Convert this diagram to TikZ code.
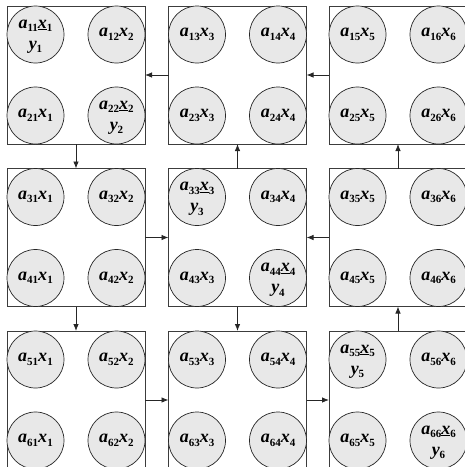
\documentclass[tikz,border=0pt]{standalone}
\usepackage{fontspec}
\setmainfont{Liberation Serif}
\usetikzlibrary{arrows.meta}
\definecolor{circfill}{RGB}{232,232,232}
\definecolor{linegray}{RGB}{60,60,60}
\newcommand{\mainf}{\fontsize{18}{20}\selectfont\bfseries\itshape}
\newcommand{\subf}{\fontsize{11}{12}\selectfont\bfseries\upshape}
\newcommand{\offl}[2]{{\mainf a}\raisebox{-3.5pt}{\subf #1#2}{\mainf x}\raisebox{-3.5pt}{\subf #2}}
\newcommand{\diagl}[1]{{\mainf\begin{tabular}{@{}c@{}}{\mainf a}\raisebox{-3.5pt}{\subf #1#1}\underline{{\mainf x}}\raisebox{-3.5pt}{\subf #1}\\[1pt]{\mainf y}\raisebox{-3.5pt}{\subf #1}\end{tabular}}}
\tikzset{
  boxnode/.style={draw=linegray, line width=0.8pt, minimum size=138pt, inner sep=0pt, outer sep=0pt},
  circnode/.style={circle, draw=black!85, fill=circfill, line width=0.7pt, minimum size=57pt, inner sep=0pt},
  arr/.style={draw=black!85, line width=0.8pt, -{Latex[length=7pt,width=5.5pt]}}
}
\begin{document}
\begin{tikzpicture}[x=1pt,y=-1pt]
\useasboundingbox (0,0) rectangle (465,467);
\clip (0,0) rectangle (465,467);
% boxes
\foreach \R/\yy in {1/75,2/237.5,3/400}{
  \foreach \C/\xx in {1/76,2/237.5,3/398}{
    \node[boxnode] (b\R\C) at (\xx,\yy) {};
  }
}
% circles
\foreach \i/\cy in {1/34.5,2/115.5,3/197,4/278,5/359.5,6/440.5}{
  \foreach \j/\cx in {1/35.5,2/116.5,3/197,4/278,5/357.5,6/438.5}{
    \ifnum\i=\j
      \node[circnode] (c\i\j) at (\cx,\cy) {\diagl{\i}};
    \else
      \node[circnode] (c\i\j) at (\cx,\cy) {\offl{\i}{\j}};
    \fi
  }
}
% arrows
\draw[arr] (b12.west) -- (b11.east);
\draw[arr] (b13.west) -- (b12.east);
\draw[arr] (b11.south) -- (b21.north);
\draw[arr] (b21.east) -- (b22.west);
\draw[arr] (b22.north) -- (b12.south);
\draw[arr] (b23.west) -- (b22.east);
\draw[arr] (b23.north) -- (b13.south);
\draw[arr] (b21.south) -- (b31.north);
\draw[arr] (b22.south) -- (b32.north);
\draw[arr] (b31.east) -- (b32.west);
\draw[arr] (b32.east) -- (b33.west);
\draw[arr] (b33.north) -- (b23.south);
\end{tikzpicture}
\end{document}
